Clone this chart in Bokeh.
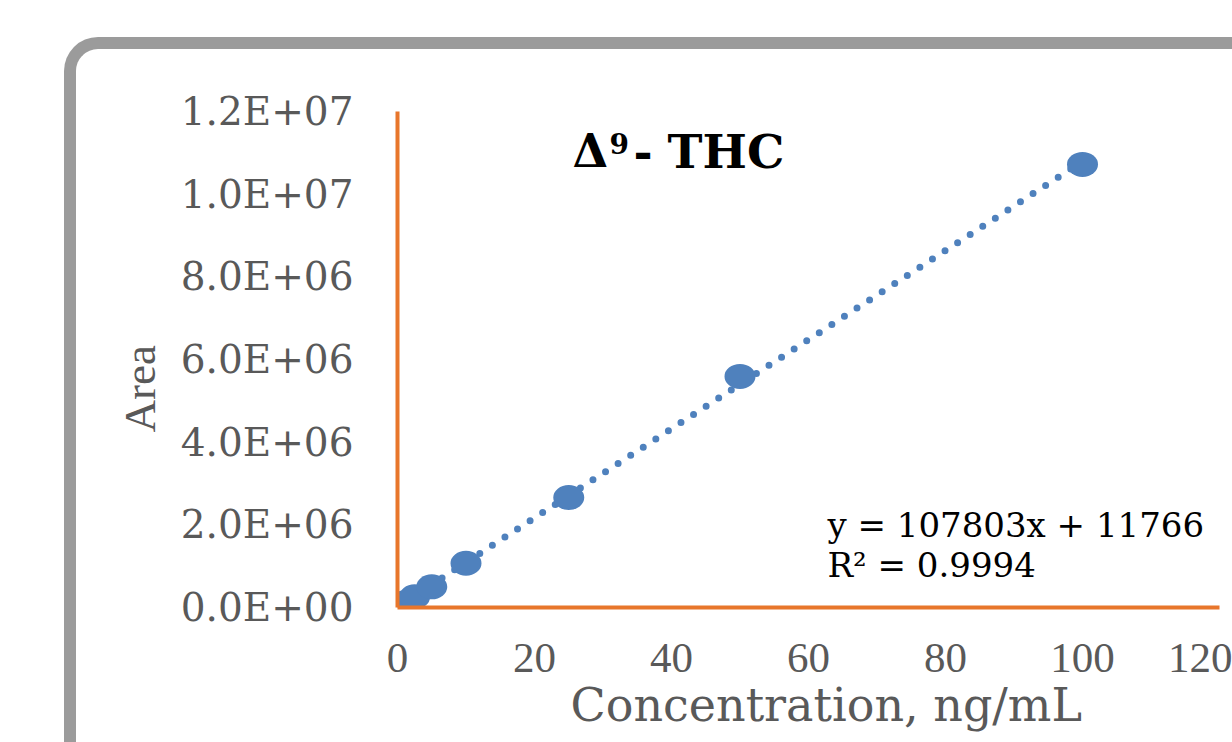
import math
from bokeh.plotting import figure
from bokeh.models import Label, FixedTicker, Range1d, Title
from bokeh.embed import file_html
from bokeh.resources import INLINE

# ---- data ----
concentration = [1, 2.5, 5, 10, 25, 50, 100]
area = [110000, 260000, 500000, 1070000, 2660000, 5590000, 10720000]
slope = 107803
intercept = 11766
r_squared = 0.9994
x_ticks = [0, 20, 40, 60, 80, 100, 120]
y_ticks = [0, 2000000, 4000000, 6000000, 8000000, 10000000, 12000000]
y_tick_labels = ["0.0E+00", "2.0E+06", "4.0E+06", "6.0E+06", "8.0E+06", "1.0E+07", "1.2E+07"]
x_title = "Concentration, ng/mL"
y_title = "Area"
eq_line1 = f"y = {slope}x + {intercept}"
eq_line2 = f"R² = {r_squared}"

BLUE = "#4F81BD"
ORANGE = "#E8762B"
GRAY = "#595959"

# canvas origin on the page (inside the grey rounded chart border)
OX, OY = 76, 49
BW = 12  # border width

p = figure(
    output_backend="svg", toolbar_location=None,
    frame_width=822, frame_height=496,
    min_border_left=397 - OX, min_border_top=111 - OY,
    min_border_right=13, min_border_bottom=135,
    x_range=Range1d(0, 120), y_range=Range1d(0, 12000000),
    background_fill_color="white", border_fill_color=None,
)
p.styles = {
    "margin-left": "64px", "margin-top": "37px",
    "border-left": f"{BW}px solid #9B9B9B", "border-top": f"{BW}px solid #9B9B9B",
    "border-top-left-radius": "34px",
}
p.outline_line_color = None
p.xgrid.visible = False
p.ygrid.visible = False

for ax in (p.xaxis[0], p.yaxis[0]):
    ax.axis_line_color = ORANGE
    ax.axis_line_width = 4
    ax.major_tick_line_color = None
    ax.minor_tick_line_color = None
    ax.major_tick_out = 0
    ax.major_tick_in = 0
    ax.major_label_text_color = GRAY

p.xaxis.ticker = FixedTicker(ticks=x_ticks)
p.yaxis.ticker = FixedTicker(ticks=y_ticks)
p.yaxis.major_label_overrides = {t: l for t, l in zip(y_ticks, y_tick_labels)}

p.xaxis.major_label_text_font = "Liberation Serif"
p.xaxis.major_label_text_font_size = "43px"
p.xaxis.major_label_standoff = 36

p.yaxis.major_label_text_font = "DejaVu Serif"
p.yaxis.major_label_text_font_size = "39px"
p.yaxis.major_label_standoff = 44

# axis titles as side-panel titles, offset from the frame start
p.add_layout(Title(text=x_title, align="left", offset=173, standoff=3,
                   text_font="DejaVu Serif", text_font_size="46px",
                   text_font_style="normal", text_color=GRAY), "below")
p.add_layout(Title(text=y_title, align="left", offset=175, standoff=25,
                   text_font="Liberation Serif", text_font_size="45px",
                   text_font_style="normal", text_color=GRAY), "left")

# trendline
tx = [min(concentration), max(concentration)]
ty = [slope * x + intercept for x in tx]
p.line(tx, ty, line_color=BLUE, line_width=7, line_dash="0 15", line_cap="round")

# data points
p.ellipse(x=concentration, y=area, width=31, height=25,
          width_units="screen", height_units="screen",
          fill_color=BLUE, line_color=None)

def canvas_label(x, y, text, size, bold=False):
    # x, y: wanted page position of the text start / baseline
    px = int(size.replace("px", ""))
    p.add_layout(Label(x=x - OX - BW - 1, y=y - OY - BW - 0.37 * px,
                       x_units="canvas", y_units="canvas", text=text,
                       text_font="DejaVu Serif", text_font_size=size,
                       text_font_style="bold" if bold else "normal",
                       text_color="black", text_align="left", text_baseline="alphabetic"))

# chart title  Δ⁹-THC
canvas_label(573, 168, "Δ", "46px", bold=True)
canvas_label(610, 153, "9", "28px", bold=True)
canvas_label(634, 168, "-", "46px", bold=True)
canvas_label(668, 168, "THC", "47px", bold=True)

# trendline equation
canvas_label(828, 537, eq_line1, "34px")
canvas_label(828, 577, eq_line2, "34px")

open("out.html", "w").write(file_html(p, INLINE))
